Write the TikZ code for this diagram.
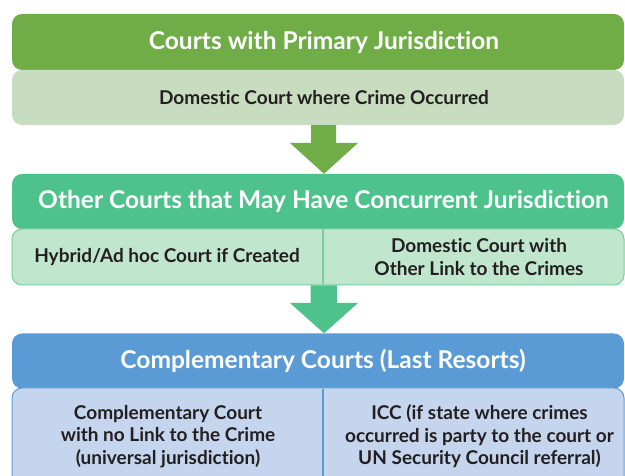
\documentclass[tikz,border=0pt]{standalone}
\usepackage{fontspec}
\setmainfont{Lato}[Ligatures=CommonOff]
\definecolor{gA}{RGB}{112,173,71}
\definecolor{gAl}{RGB}{200,221,192}
\definecolor{gB}{RGB}{77,195,139}
\definecolor{gBl}{RGB}{193,230,206}
\definecolor{gBd}{RGB}{120,205,156}
\definecolor{bC}{RGB}{91,155,213}
\definecolor{bCl}{RGB}{197,213,237}
\definecolor{txt}{RGB}{35,31,32}
\tikzset{
  hdr/.style={rounded corners=10pt, minimum width=612pt, minimum height=56pt, inner sep=0pt},
  sub/.style={rounded corners=10pt, minimum width=612pt, inner sep=0pt},
  htext/.style={text=white, font=\fontsize{24.5}{28}\selectfont\bfseries, inner sep=0pt},
  stext/.style={text=txt, font=\fontsize{19}{22.5}\selectfont\bfseries, align=center, inner sep=0pt},
}
\begin{document}
\begin{tikzpicture}[x=1pt,y=-1pt]
\useasboundingbox (0,0) rectangle (625,476);
\clip (0,0) rectangle (625,476);
% Box 1
\node[hdr, fill=gA] (h1) at (318,42) {};
\node[sub, fill=gAl, minimum height=55pt] (s1) at (318,97.5) {};
\node[htext] (h1t) at (324,42) {Courts with Primary Jurisdiction};
\node[stext] (s1t) at (324,97.5) {Domestic Court where Crime Occurred};
% Box 2
\node[hdr, fill=gB, minimum height=55pt] (h2) at (318,201.5) {};
\node[sub, fill=gBl, draw=gBd, line width=1pt, minimum height=56pt] (s2) at (318,257) {};
\draw[gBd, line width=1.5pt] (323,229.5) -- (323,284.5);
\node[htext] (h2t) at (323.5,201.5) {Other Courts that May Have Concurrent Jurisdiction};
\node[stext] (s2a) at (167,257) {Hybrid/Ad hoc Court if Created};
\node[stext] (s2b) at (479,257) {Domestic Court with\\Other Link to the Crimes};
% Box 3
\node[hdr, fill=bC, minimum height=55pt] (h3) at (318,361) {};
\node[sub, fill=bCl, draw=bC, line width=1pt, minimum height=110pt] (s3) at (318,443) {};
\draw[bC, line width=2pt] (323,389) -- (323,480);
\node[htext] (h3t) at (323,361) {Complementary Courts (Last Resorts)};
\node[stext] (s3a) at (168,436.5) {Complementary Court\\with no Link to the Crime\\(universal jurisdiction)};
\node[stext] (s3b) at (479.5,436.5) {ICC (if state where crimes\\occurred is party to the court or\\UN Security Council referral)};
% Arrows
\fill[gA] (s1.south -| 311,0) -- (311,143) -- (290,143) -- (h2.north -| 324,0) -- (358,143) -- (336,143) -- (s1.south -| 336,0) -- cycle;
\fill[gB] (s2.south -| 310.5,0) -- (310.5,303) -- (290,303) -- (h3.north -| 324,0) -- (358,303) -- (337,303) -- (s2.south -| 337,0) -- cycle;
\end{tikzpicture}
\end{document}
